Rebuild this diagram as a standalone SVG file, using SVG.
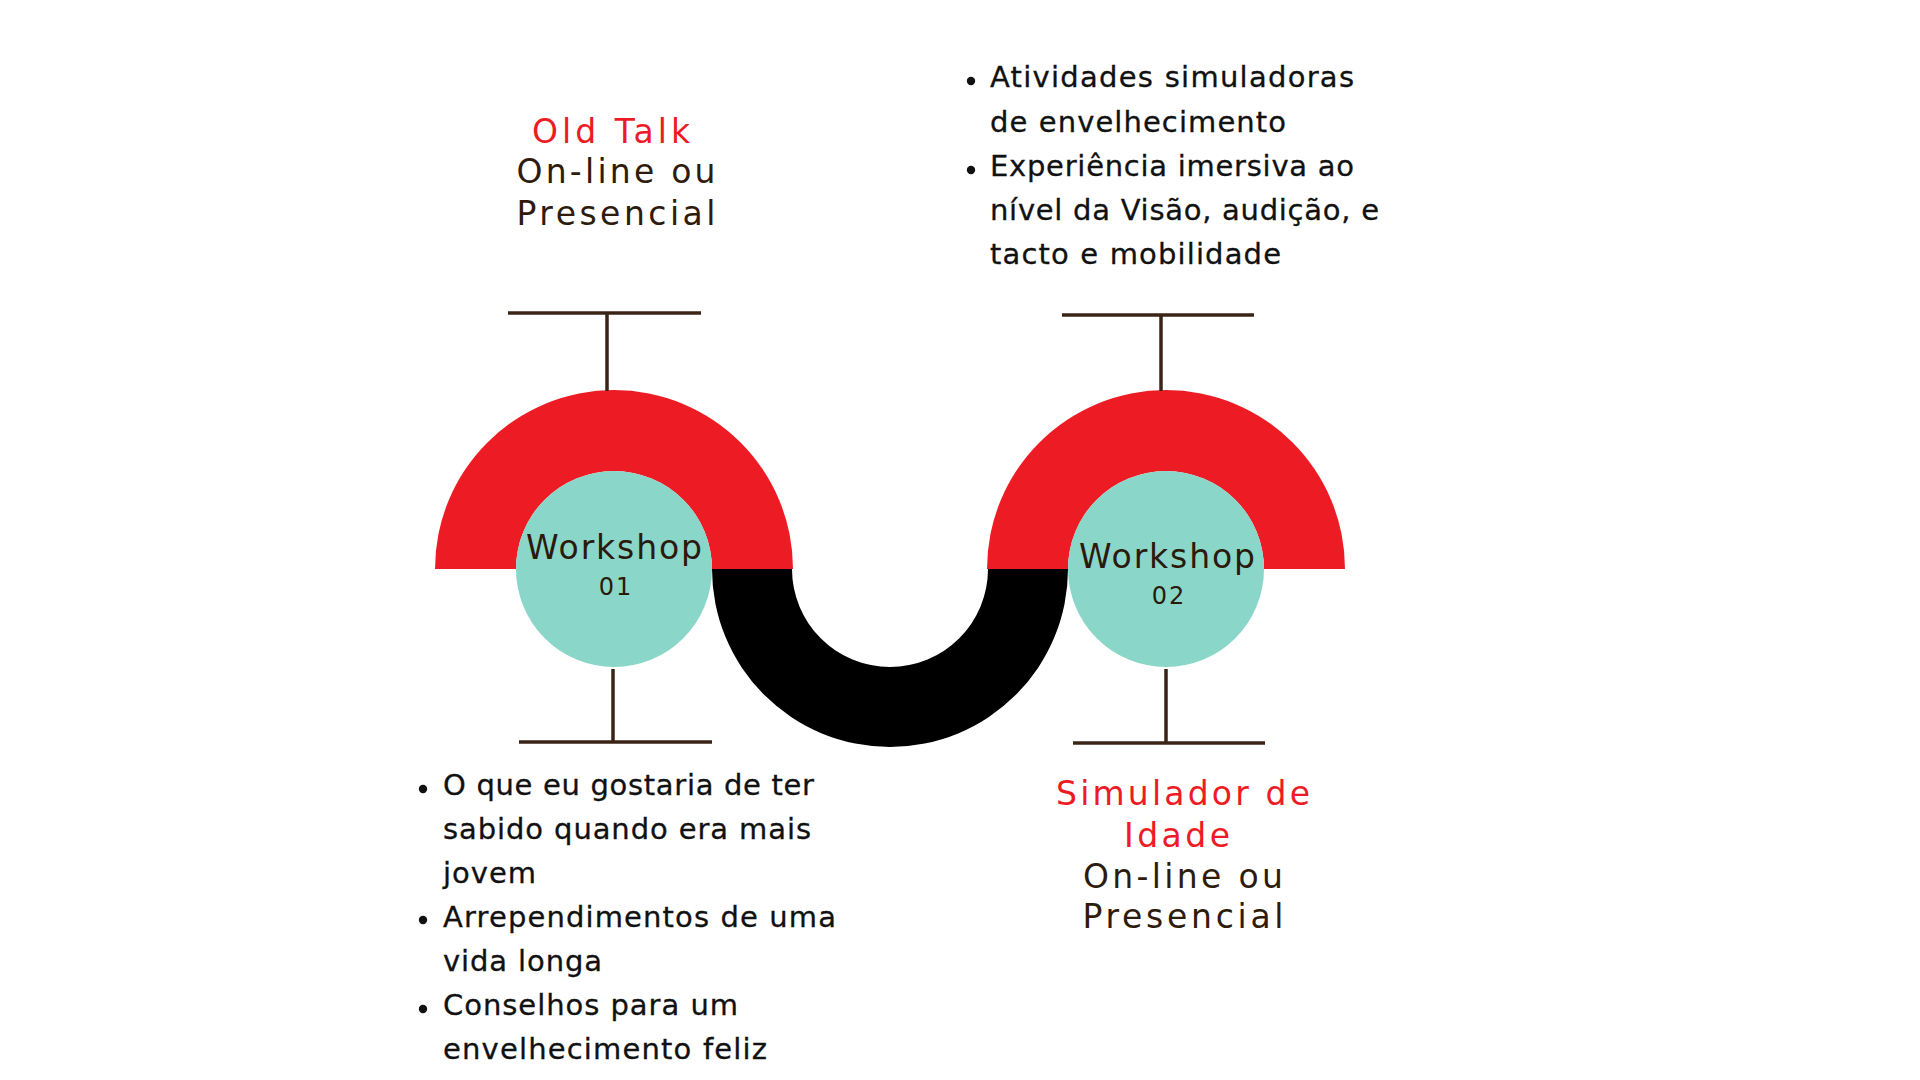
<svg xmlns="http://www.w3.org/2000/svg" width="1920" height="1080" viewBox="0 0 1920 1080">
  <style>
    .red { fill: #ED1C24; }
    .teal { fill: #8AD6C9; }
    .blk { fill: #000000; }
    .line { stroke: #3A2416; stroke-width: 3.5; fill: none; stroke-linecap: butt; }
    .head { font-family: "DejaVu Sans", "Noto Sans", sans-serif; font-size: 33px; text-anchor: middle; }
    .hred { fill: #ED1C24; }
    .hdark { fill: #2E1B0C; }
    .ws { font-family: "DejaVu Sans", "Noto Sans", sans-serif; font-size: 33px; fill: #2A1A0C; text-anchor: middle; }
    .num { font-family: "DejaVu Sans", "Noto Sans", sans-serif; font-size: 24px; fill: #2A1A0C; text-anchor: middle; letter-spacing: 2px; }
    .body { font-family: "DejaVu Sans", "Noto Sans", sans-serif; font-size: 29px; fill: #111111; stroke: #111111; stroke-width: 0.3px; }
    .dot { fill: #111111; }
  </style>
  <rect x="0" y="0" width="1920" height="1080" fill="#FFFFFF"/>

  <g id="wave">
    <path class="red" d="M 435 569 A 179 179 0 0 1 793 569 L 712 569 A 98 98 0 0 0 516 569 Z"/>
    <path class="blk" d="M 712 569 A 178 178 0 0 0 1068 569 L 988 569 A 98 98 0 0 1 792 569 Z"/>
    <path class="red" d="M 987 569 A 179 179 0 0 1 1345 569 L 1264 569 A 98 98 0 0 0 1068 569 Z"/>
  </g>

  <g id="workshop-01">
    <circle class="teal" cx="614" cy="569" r="98"/>
    <text class="ws" x="614" y="559" textLength="176">Workshop</text>
    <text class="num" x="616" y="595">01</text>
  </g>

  <g id="workshop-02">
    <circle class="teal" cx="1166" cy="569" r="98"/>
    <text class="ws" x="1167" y="568" textLength="176">Workshop</text>
    <text class="num" x="1169" y="604">02</text>
  </g>

  <g id="connectors">
    <line class="line" x1="508" y1="313" x2="701" y2="313"/>
    <line class="line" x1="607" y1="313" x2="607" y2="391"/>
    <line class="line" x1="519" y1="742" x2="712" y2="742"/>
    <line class="line" x1="613" y1="669" x2="613" y2="742"/>
    <line class="line" x1="1062" y1="315" x2="1254" y2="315"/>
    <line class="line" x1="1161" y1="315" x2="1161" y2="391"/>
    <line class="line" x1="1073" y1="743" x2="1265" y2="743"/>
    <line class="line" x1="1166" y1="669" x2="1166" y2="743"/>
  </g>

  <g id="old-talk-label">
    <text class="head hred" x="611" y="143" textLength="158">Old Talk</text>
    <text class="head hdark" x="616" y="183" textLength="199">On-line ou</text>
    <text class="head hdark" x="616" y="225" textLength="199">Presencial</text>
  </g>

  <g id="simulador-label">
    <text class="head hred" x="1183" y="805" textLength="254">Simulador de</text>
    <text class="head hred" x="1177" y="847" textLength="106">Idade</text>
    <text class="head hdark" x="1183" y="888" textLength="200">On-line ou</text>
    <text class="head hdark" x="1183" y="928" textLength="201">Presencial</text>
  </g>

  <g id="workshop-02-bullets">
    <circle class="dot" cx="971" cy="81" r="4.2"/>
    <circle class="dot" cx="971" cy="170" r="4.2"/>
    <text class="body" x="990" y="87" textLength="364">Atividades simuladoras</text>
    <text class="body" x="990" y="132" textLength="296">de envelhecimento</text>
    <text class="body" x="990" y="176" textLength="364">Experiência imersiva ao</text>
    <text class="body" x="990" y="219.5" textLength="389">nível da Visão, audição, e</text>
    <text class="body" x="990" y="263.5" textLength="291">tacto e mobilidade</text>
  </g>

  <g id="workshop-01-bullets">
    <circle class="dot" cx="423" cy="789" r="4.2"/>
    <circle class="dot" cx="423" cy="920" r="4.2"/>
    <circle class="dot" cx="423" cy="1009" r="4.2"/>
    <text class="body" x="443" y="795" textLength="371">O que eu gostaria de ter</text>
    <text class="body" x="443" y="839" textLength="368">sabido quando era mais</text>
    <text class="body" x="443" y="883" textLength="93">jovem</text>
    <text class="body" x="443" y="926.5" textLength="393">Arrependimentos de uma</text>
    <text class="body" x="443" y="970.5" textLength="159">vida longa</text>
    <text class="body" x="443" y="1015" textLength="295">Conselhos para um</text>
    <text class="body" x="443" y="1058.5" textLength="324">envelhecimento feliz</text>
  </g>
</svg>
